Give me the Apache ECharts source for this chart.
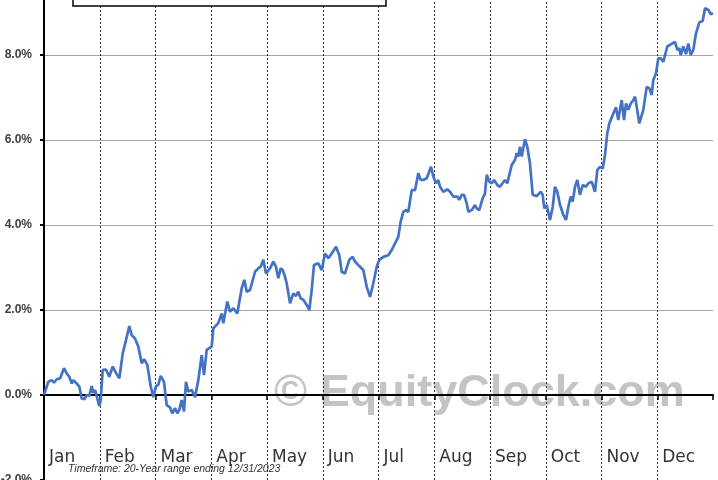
<!DOCTYPE html>
<html>
<head>
<meta charset="utf-8">
<script src="https://cdn.jsdelivr.net/npm/echarts@6/dist/echarts.min.js"></script>
<style>
html,body{margin:0;padding:0;background:#fff;}
#chart{width:718px;height:480px;}
</style>
</head>
<body>
<div id="chart"></div>
<script>
// Month labels (equal-width month slots on the x axis, 0..12)
const monthLabels = ['Jan','Feb','Mar','Apr','May','Jun','Jul','Aug','Sep','Oct','Nov','Dec'];

// Position within the year, in months from Jan 1 (0 = start of Jan, 12 = end of Dec)
const xPos = [
0.000,0.077,0.138,0.179,0.228,0.287,0.359,0.407,0.454,0.497,0.526,0.587,0.633,0.676,0.723,0.766,0.813,0.856,0.884,0.915,0.956,0.992,
1.017,1.053,1.112,1.171,1.232,1.291,1.351,1.412,1.471,1.530,1.573,1.632,1.691,1.752,1.799,1.853,1.914,1.961,
2.009,2.050,2.093,2.152,2.201,2.260,2.301,2.350,2.391,2.427,2.470,2.511,2.547,2.588,2.649,2.709,2.768,2.829,2.870,2.918,2.960,
3.008,3.037,3.126,3.187,3.216,3.288,3.336,3.396,3.467,3.546,3.593,3.636,3.695,3.785,3.844,3.887,3.934,3.982,
4.054,4.113,4.161,4.203,4.246,4.282,4.323,4.353,4.413,4.472,4.520,4.561,4.605,4.651,4.712,4.759,4.802,4.843,4.920,4.981,
5.040,5.100,5.161,5.238,5.297,5.340,5.399,5.476,5.537,5.578,5.637,5.668,5.727,5.788,5.848,5.907,5.968,
6.014,6.086,6.176,6.237,6.296,6.355,6.398,6.445,6.493,6.535,6.596,6.624,6.655,6.714,6.757,6.804,6.865,6.942,6.983,
7.031,7.073,7.103,7.162,7.234,7.283,7.341,7.413,7.449,7.492,7.534,7.582,7.611,7.672,7.731,7.762,7.808,7.869,7.910,7.941,7.988,
8.031,8.072,8.131,8.179,8.269,8.310,8.389,8.448,8.479,8.508,8.538,8.569,8.628,8.669,8.717,8.766,8.838,8.909,8.945,8.974,
9.017,9.076,9.125,9.166,9.207,9.256,9.315,9.363,9.405,9.448,9.483,9.525,9.566,9.614,9.663,9.722,9.763,9.824,9.883,9.925,9.973,
10.022,10.063,10.104,10.140,10.201,10.260,10.301,10.362,10.404,10.440,10.481,10.524,10.571,10.601,10.632,10.678,10.750,10.811,10.857,10.900,10.929,10.978,
11.019,11.062,11.109,11.180,11.259,11.318,11.360,11.396,11.421,11.467,11.516,11.557,11.600,11.647,11.695,11.755,11.815,11.857,11.916,11.959,12.000
];

// Average cumulative return (%) at each position
const pctValues = [
0.00,0.31,0.35,0.29,0.37,0.39,0.63,0.51,0.43,0.27,0.35,0.27,0.20,-0.08,-0.10,0.00,-0.02,0.21,0.05,0.12,-0.08,-0.26,
-0.12,0.59,0.60,0.43,0.67,0.52,0.39,0.98,1.29,1.62,1.41,1.33,1.14,0.75,0.84,0.71,0.20,-0.05,
0.21,0.24,0.45,0.31,-0.24,-0.29,-0.43,-0.31,-0.43,-0.35,-0.12,-0.39,0.31,0.08,0.12,-0.05,0.35,0.94,0.47,1.06,1.10,
1.14,1.57,1.69,1.92,1.69,2.20,1.96,2.04,1.92,2.51,2.71,2.43,2.47,2.90,2.98,3.02,3.18,2.86,
2.98,3.14,3.02,2.75,2.98,2.94,2.78,2.63,2.16,2.39,2.33,2.43,2.27,2.24,2.12,2.00,2.47,3.06,3.10,2.94,
3.33,3.22,3.33,3.49,3.29,2.90,2.86,3.18,3.25,3.14,3.06,3.06,2.94,2.55,2.31,2.63,3.02,
3.18,3.25,3.29,3.41,3.57,3.72,4.08,4.31,4.35,4.31,4.82,4.86,4.82,5.22,5.06,5.06,5.10,5.37,5.14,
4.98,5.06,4.90,4.78,4.84,4.78,4.67,4.67,4.59,4.71,4.71,4.51,4.31,4.35,4.47,4.39,4.35,4.63,4.74,5.18,5.02,
4.98,5.06,4.94,4.90,5.06,4.98,5.41,5.53,5.69,5.61,5.84,5.61,6.02,5.84,5.45,4.71,4.68,4.78,4.71,4.39,
4.47,4.12,4.43,4.90,4.78,4.47,4.24,4.12,4.43,4.67,4.55,4.90,5.06,4.71,4.94,4.90,4.98,5.02,4.78,5.29,5.37,
5.33,5.65,6.16,6.39,6.59,6.77,6.47,6.94,6.47,6.86,6.71,6.86,6.94,7.02,6.78,6.39,6.71,7.25,7.22,7.06,7.41,7.57,
7.92,7.92,7.84,8.20,8.26,8.31,8.12,8.16,8.00,8.20,8.02,8.27,8.00,8.12,8.51,8.77,8.80,9.10,9.06,8.96,8.98
];

// Y axis range / ticks (percent)
const yMin = -2, yMax = 10, yStep = 2;

const footerText = 'Timeframe: 20-Year range ending 12/31/2023';
const watermarkText = '\u00A9 EquityClock.com';

const seriesData = xPos.map((x, i) => [x, pctValues[i]]);

const chart = echarts.init(document.getElementById('chart'), null, {renderer: 'canvas'});
chart.setOption({
  animation: false,
  backgroundColor: '#ffffff',
  grid: {left: 44, right: 5, top: -30, bottom: 0, containLabel: false, outerBoundsMode: 'none'},
  xAxis: [
    {
      type: 'value', min: 0, max: 12, interval: 1,
      axisLine: {show: true, onZero: true, lineStyle: {color: '#000', width: 2}},
      axisTick: {show: true, length: 5, lineStyle: {color: '#000', width: 1.5}},
      axisLabel: {show: false},
      splitLine: {show: false}
    },
    {
      type: 'value', min: 0, max: 12, interval: 1, position: 'bottom',
      axisLine: {show: false, onZero: false},
      axisTick: {show: false},
      axisLabel: {
        show: true, inside: true, margin: 14, align: 'left', padding: [0,0,0,5],
        fontFamily: 'DejaVu Sans', fontSize: 17, color: '#333',
        formatter: v => (v >= 0 && v < 12) ? monthLabels[v] : ''
      },
      splitLine: {show: true, showMinLine: false, showMaxLine: false,
        lineStyle: {color: '#333', width: 1, type: [2, 2]}}
    }
  ],
  yAxis: {
    type: 'value', min: yMin, max: yMax, interval: yStep,
    axisLine: {show: true, onZero: false, lineStyle: {color: '#000', width: 2}},
    axisTick: {show: true, length: 4, lineStyle: {color: '#000', width: 2}},
    axisLabel: {
      margin: 12, fontFamily: 'Liberation Sans', fontWeight: 'bold', fontSize: 12, color: '#404040',
      formatter: v => v.toFixed(1) + '%'
    },
    splitLine: {show: true, lineStyle: {color: '#a6a6a6', width: 1}}
  },
  graphic: [
    {
      type: 'text', z: -10, left: 274, top: 371,
      style: {text: watermarkText, fill: '#c4c4c4', font: 'bold 45px "Liberation Sans"'}
    },
    {
      type: 'rect', z: 100, shape: {x: 73, y: -10, width: 313, height: 16},
      style: {fill: '#fff', stroke: '#000', lineWidth: 1.5}
    },
    {
      type: 'text', z: 100, left: 68, top: 464,
      style: {text: footerText, fill: '#333', font: 'italic 10.5px "Liberation Sans"'}
    }
  ],
  series: [{
    type: 'line', xAxisIndex: 0, yAxisIndex: 0,
    data: seriesData, showSymbol: false, symbol: 'none',
    lineStyle: {color: '#4472C4', width: 2.7}, z: 5
  }]
});
</script>
</body>
</html>
